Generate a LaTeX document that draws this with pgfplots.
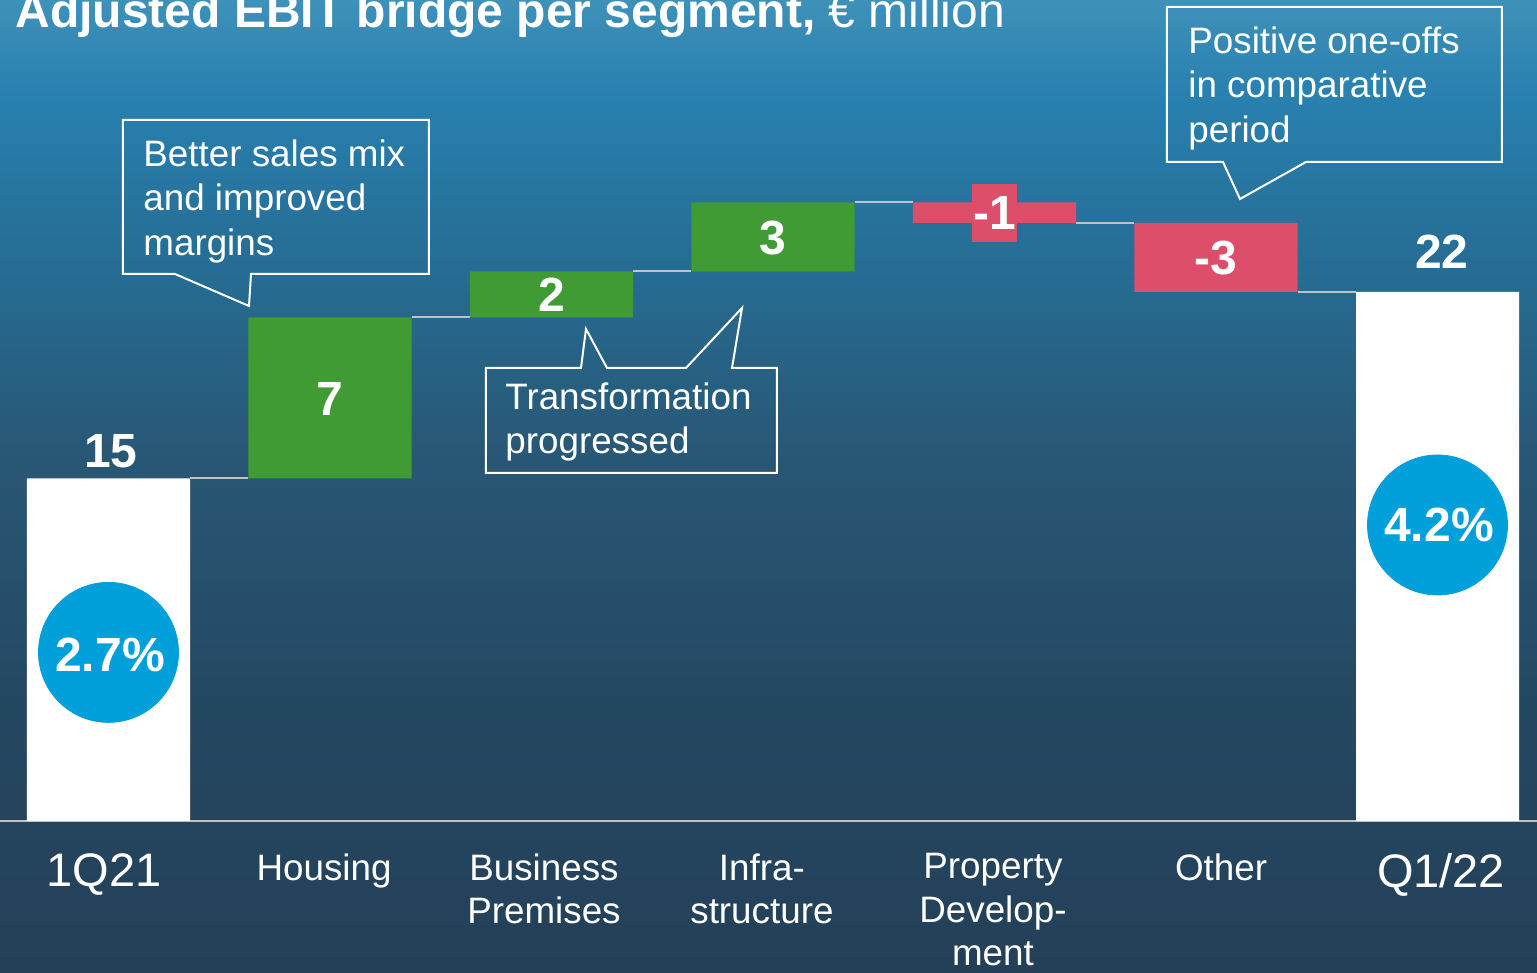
\documentclass[border=0pt]{standalone}
\usepackage{fontspec}
\setmainfont{Liberation Sans}
\usepackage{pgfplots}
\pgfplotsset{compat=1.18}
\definecolor{barG}{RGB}{64,155,52}
\definecolor{barR}{RGB}{220,78,105}
\definecolor{circ}{RGB}{2,160,218}
\definecolor{conn}{RGB}{190,195,200}
\definecolor{sA}{RGB}{36,64,88}
\definecolor{sB}{RGB}{37,72,98}
\definecolor{sC}{RGB}{40,88,118}
\definecolor{sD}{RGB}{38,110,150}
\definecolor{sE}{RGB}{40,128,175}
\definecolor{sF}{RGB}{62,145,185}
\pgfdeclareverticalshading{sky}{100bp}{color(0bp)=(sA); color(25bp)=(sA); color(39bp)=(sB); color(52bp)=(sC); color(62bp)=(sD); color(70bp)=(sE); color(75bp)=(sF); color(100bp)=(sF)}
\pgfplotsset{common/.style={scale only axis, width=768.5pt, height=486.5pt,
  xmin=-0.48984, xmax=6.44921, ymin=-6.6087, ymax=35.6957, clip=false}}
\begin{document}
\begin{tikzpicture}
% axis A: background, baseline, category labels, connectors
\begin{axis}[common,
  axis x line=middle, axis y line=none,
  axis line style={-, draw=conn, line width=0.6pt},
  axis background/.style={shading=sky},
  hide obscured x ticks=false,
  xtick={-0.02,0.973,1.966,2.95,3.993,5.023,6.016},
  xticklabels={{\fontsize{23.5}{28}\selectfont 1Q21},Housing,{Business\\Premises},{Infra-\\structure},{Property\\Develop-\\ment},Other,{\fontsize{23.5}{28}\selectfont Q1/22}},
  major tick length=0pt, ytick=\empty,
  xticklabel style={anchor=north, inner sep=0pt, yshift=-16pt, align=center, text=white, font=\fontsize{18.4}{21.75}\selectfont}]
\addplot[conn, line width=1pt] coordinates {(0.368,14.9) (0.632,14.9)};
\addplot[conn, line width=1pt] coordinates {(1.368,21.9) (1.632,21.9)};
\addplot[conn, line width=1pt] coordinates {(2.368,23.9) (2.632,23.9)};
\addplot[conn, line width=1pt] coordinates {(3.368,26.9) (3.632,26.9)};
\addplot[conn, line width=1pt] coordinates {(4.368,26.0) (4.632,26.0)};
\addplot[conn, line width=1pt] coordinates {(5.368,23.0) (5.632,23.0)};
\end{axis}
% axis B: waterfall bars
\begin{axis}[common, hide axis, ybar stacked, bar width=0.736]
\addplot[draw=none, fill=none] coordinates {(0,0) (1,14.9) (2,21.9) (3,23.9) (4,26.0) (5,23.0) (6,0)};
\addplot[draw=none, fill=white] coordinates {(0,14.9) (1,0) (2,0) (3,0) (4,0) (5,0) (6,23.0)};
\addplot[draw=none, fill=barG] coordinates {(0,0) (1,7.0) (2,2.0) (3,3.0) (4,0) (5,0) (6,0)};
\addplot[draw=none, fill=barR] coordinates {(0,0) (1,0) (2,0) (3,0) (4,0.9) (5,3.0) (6,0)};
\end{axis}
% axis C: circles and value labels
\begin{axis}[common, hide axis]
\addplot[circ, only marks, mark=*, mark size=35pt, mark options={draw=circ, fill=circ}] coordinates {(0,7.33) (6,12.87)};
\tikzset{lab/.style={text=white, inner sep=0pt, font=\fontsize{24}{28}\selectfont\bfseries}}
\node[lab, anchor=base] at (axis cs:0.01,15.35) {15};
\node[lab, anchor=base] at (axis cs:1,17.65) {7};
\node[lab, anchor=base] at (axis cs:2,22.17) {2};
\node[lab, anchor=base] at (axis cs:3,24.65) {3};
\node[lab, fill=barR, inner xsep=0.8pt, minimum height=29pt] at (axis cs:4,26.43) {-1};
\node[lab, anchor=base] at (axis cs:5,23.74) {-3};
\node[lab, anchor=base] at (axis cs:6.02,24.04) {22};
\end{axis}
\begin{scope}[shift={(current axis.north west)}, x=0.5pt, y=-0.5pt]
\node[text=white, inner sep=0pt, font=\fontsize{24}{28}\selectfont\bfseries, anchor=base] at (110,672) {2.7\%};
\node[text=white, inner sep=0pt, font=\fontsize{24}{28}\selectfont\bfseries, anchor=base] at (1439,542) {4.2\%};
\draw[white, line width=1pt] (123,120) -- (429,120) -- (429,274) -- (251,274) -- (249,306) -- (175,274) -- (123,274) -- cycle;
\draw[white, line width=1pt] (486,368) -- (581,368) -- (586,329) -- (607,368) -- (686,368) -- (742,308) -- (732,368) -- (777,368) -- (777,473) -- (486,473) -- cycle;
\draw[white, line width=1pt] (1167,7) -- (1502,7) -- (1502,162) -- (1306,162) -- (1240,199) -- (1223,162) -- (1167,162) -- cycle;
\tikzset{call/.style={anchor=north west, inner sep=0pt, align=left, text=white, font=\fontsize{18.4}{22.25}\selectfont}}
\node[call] at (143,139) {Better sales mix\\and improved\\margins};
\node[call] at (505,382) {Transformation\\progressed};
\node[call] at (1188,26) {Positive one-offs\\in comparative\\period};
\node[anchor=base west, inner sep=0pt, text=white, font=\fontsize{24}{28}\selectfont] at (15,28) {\bfseries Adjusted EBIT bridge per segment, \mdseries € million};
\end{scope}
\pgfresetboundingbox
\path[use as bounding box] (current axis.south west) rectangle (current axis.north east);
\end{tikzpicture}
\end{document}
